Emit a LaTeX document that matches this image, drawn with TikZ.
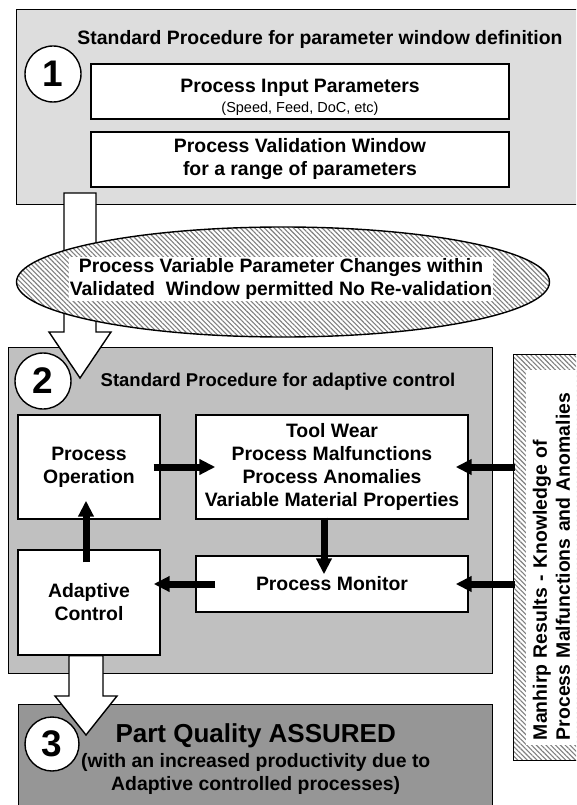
\documentclass[tikz,border=0pt]{standalone}
\usepackage{fontspec}
\setmainfont{Liberation Sans}
\usetikzlibrary{shapes.geometric, arrows.meta, patterns.meta, calc}
\definecolor{stageA}{HTML}{DDDDDD}
\definecolor{stageB}{HTML}{C0C0C0}
\definecolor{stageC}{HTML}{969696}
\definecolor{hatch}{HTML}{7F7F7F}
\newcommand{\boxfont}{\bfseries\fontsize{19.4}{23}\selectfont}
\tikzstyle{panel} = [rectangle, anchor=north west, draw=black, line width=1.4pt, inner sep=0pt]
\tikzstyle{process} = [rectangle, draw=black, line width=1.4pt, fill=white, text centered, align=center, inner sep=0pt, font=\boxfont]
\tikzstyle{heading} = [inner sep=0pt, font=\boxfont]
\tikzstyle{stepnum} = [circle, draw=black, line width=1.4pt, fill=white, minimum size=56pt, inner sep=0pt, font=\bfseries\fontsize{37}{37}\selectfont]
\tikzstyle{hatched} = [draw=black, line width=1.4pt, preaction={fill=white}, pattern={Lines[angle=-45, distance=3.4pt, line width=1.1pt]}, pattern color=hatch]
\tikzstyle{hollow} = [draw=black, line width=1.4pt, fill=white, line join=miter]
\tikzstyle{arrow} = [line width=7pt, -{Triangle[length=16pt, width=15pt]}]

\begin{document}
\begin{tikzpicture}[x=1pt, y=-1pt, node distance=68pt, auto]
\useasboundingbox (0,0) rectangle (576,805);
\clip (0,0) rectangle (576,805);

% stage 1: parameter window
\node(stage1) [panel, fill=stageA, minimum width=570pt, minimum height=195pt] at (16,9) {};
\node(title1) [heading] at (320,39) {Standard Procedure for parameter window definition};
\node(in1) [process, minimum width=418pt, minimum height=55pt] at (300,91.5) {\rule{0pt}{25pt}Process Input Parameters\\[-3pt]{\mdseries\fontsize{14.5}{17}\selectfont (Speed, Feed, DoC, etc)}};
\node(in2) [process, minimum width=418pt, minimum height=55pt, below of=in1] {Process Validation Window\\for a range of parameters};

% stage 2: adaptive control
\node(stage2) [panel, fill=stageB, minimum width=484pt, minimum height=326pt] at (8,347) {};
\node(title2) [heading, font=\bfseries\fontsize{18.5}{22}\selectfont] at (278,382) {Standard Procedure for adaptive control};
\node(pro1) [process, minimum width=142pt, minimum height=104pt] at (89,467) {Process\\Operation};
\node(pro2) [process, minimum width=272pt, minimum height=104pt] at (332,467) {Tool Wear\\Process Malfunctions\\Process Anomalies\\Variable Material Properties};
\node(mon) [process, minimum width=272pt, minimum height=56pt] at (332,584) {Process Monitor};
\node(ctl) [process, minimum width=142pt, minimum height=105pt] at (89,602.5) {Adaptive\\Control};

% stage 3: result
\node(stage3) [panel, fill=stageC, minimum width=474pt, minimum height=108pt, align=center, font=\boxfont] at (18,704) {{\fontsize{26}{27}\selectfont Part Quality ASSURED}\\[2pt](with an increased productivity due to\\Adaptive controlled processes)};

% big hollow arrows
\coordinate (arA) at (80,193);
\coordinate (arAtip) at (80,378);
\draw[hollow] ($(arA)+(-16,0)$) -- ($(arAtip)+(-16,-46)$) -- ($(arAtip)+(-31,-46)$) -- (arAtip) -- ($(arAtip)+(31,-46)$) -- ($(arAtip)+(16,-46)$) -- ($(arA)+(16,0)$) -- cycle;
\coordinate (arB) at ([xshift=-3pt]ctl.south);
\coordinate (arBtip) at (86,735);
\draw[hollow] ($(arB)+(-17,0)$) -- ($(arBtip)+(-17,-39)$) -- ($(arBtip)+(-31,-39)$) -- (arBtip) -- ($(arBtip)+(31,-39)$) -- ($(arBtip)+(17,-39)$) -- ($(arB)+(17,0)$) -- cycle;

% permitted changes
\node(chg) [ellipse, hatched, minimum width=533pt, minimum height=110pt] at (283,282) {};
\node(chgtxt) [fill=white, font=\boxfont, align=center, inner sep=1pt] at (281,279) {Process Variable Parameter Changes within\\Validated~ Window permitted No Re-validation};

% step numbers
\node(n1) [stepnum] at (53,74) {1};
\node(n2) [stepnum] at (43,381) {2};
\node(n3) [stepnum, minimum size=54pt] at (52,744) {3};

% knowledge input
\node(manh) [panel, hatched, minimum width=75pt, minimum height=406pt] at (513,354) {};
\node(manhtxt) [rotate=90, fill=white, font=\boxfont, align=left, text width=365pt, inner xsep=5pt, inner ysep=7pt] at (551.5,557.5) {Manhirp Results - Knowledge of\\Process Malfunctions and Anomalies};

\draw[arrow, shorten <=-7pt, shorten >=-20pt] (pro1) -- (pro2);
\draw[arrow, shorten <=-2pt, shorten >=-19pt] ([xshift=-8pt]pro2.south) -- ([xshift=-8pt]mon.north);
\draw[arrow, shorten <=-20pt, shorten >=-7pt] (mon.west) -- (ctl.east |- mon.west);
\draw[arrow, shorten <=-13pt, shorten >=-19pt] ([xshift=-3pt]ctl.north) -- ([xshift=-3pt]pro1.south);
\draw[arrow, shorten <=-2pt, shorten >=-13pt] (manh.west |- pro2.east) -- (pro2.east);
\draw[arrow, shorten <=-2pt, shorten >=-13pt] (manh.west |- mon.east) -- (mon.east);
\end{tikzpicture}
\end{document}
